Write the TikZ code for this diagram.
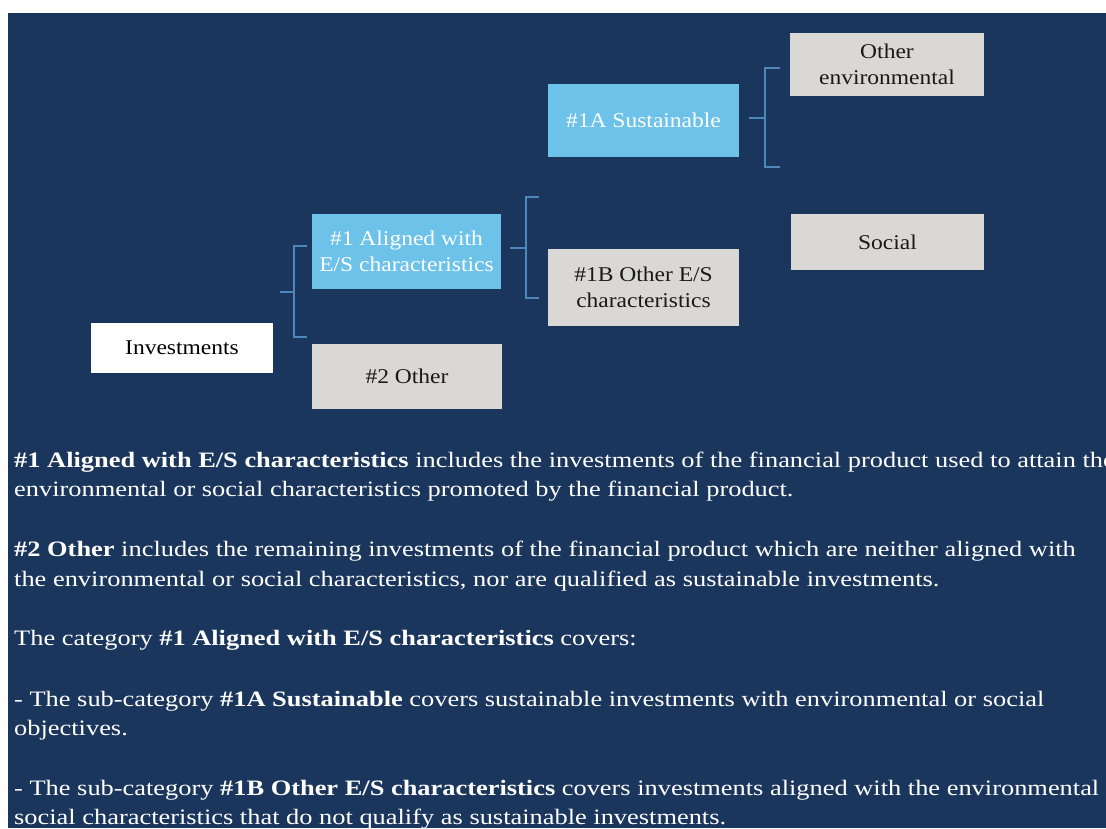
\documentclass[tikz,border=0pt]{standalone}
\usepackage{fontspec}
\setmainfont{Liberation Serif}[FakeStretch=1.2]
\newfontfamily\boxfont{Liberation Serif}[FakeStretch=1.12]
\usepackage{xcolor}
\usepackage{tikz}
\usetikzlibrary{positioning, calc}

\definecolor{navy}{RGB}{27,54,93}
\definecolor{skyfill}{RGB}{108,194,232}
\definecolor{greyfill}{RGB}{217,216,212}
\definecolor{bracketblue}{RGB}{78,136,186}

\begin{document}
\begin{tikzpicture}[
  x=1pt, y=-1pt,
  invest/.style={rectangle, fill=white, text=black, font=\boxfont\fontsize{21}{25}\selectfont, align=center, inner sep=0pt},
  aligned/.style={rectangle, fill=skyfill, text=white, font=\boxfont\fontsize{21}{26}\selectfont, align=center, inner sep=0pt},
  other/.style={rectangle, fill=greyfill, text=black!90, font=\boxfont\fontsize{21}{26}\selectfont, align=center, inner sep=0pt},
  bracket/.style={draw=bracketblue, line width=2pt},
  para/.style={anchor=base west, inner sep=0pt, text=white, font=\fontsize{22}{29.5}\selectfont},
]

  % page and panel
  \useasboundingbox (0,0) rectangle (1106,828);
  \fill[white] (0,0) rectangle (1106,828);
  \fill[navy] (8,13) rectangle (1106,828);

  % tree
  \node[invest, minimum width=182pt, minimum height=50pt] (inv) at (182,348) {Investments};
  \node[aligned, minimum width=189pt, minimum height=75pt] (al1) at (406.5,251.5) {\#1 Aligned with\\E/S characteristics};
  \node[other, minimum width=190pt, minimum height=65pt] (oth2) at (407,376.5) {\#2 Other};
  \node[aligned, minimum width=191pt, minimum height=73pt] (sus1a) at (643.5,120.5) {\#1A Sustainable};
  \node[other, minimum width=191pt, minimum height=77pt] (oth1b) at (643.5,287.5) {\#1B Other E/S\\characteristics};
  \node[other, minimum width=194pt, minimum height=63pt] (env) at (887,64.5) {Other\\environmental};
  \node[other, minimum width=193pt, minimum height=56pt] (soc) at (887.5,242) {Social};

  % brackets
  \coordinate (k1) at (294,292);
  \coordinate (k2) at (526,248);
  \coordinate (k3) at (765,118);
  \draw[bracket] ($(k1)+(-14,0)$) -- (k1);
  \draw[bracket] ($(k1)+(13,-46)$) -- ++(-13,0) -- ++(0,91) -- ++(13,0);
  \draw[bracket] ($(k2)+(-16,0)$) -- (k2);
  \draw[bracket] ($(k2)+(13,-51)$) -- ++(-13,0) -- ++(0,101) -- ++(13,0);
  \draw[bracket] ($(k3)+(-16,0)$) -- (k3);
  \draw[bracket] ($(k3)+(15,-50)$) -- ++(-15,0) -- ++(0,99) -- ++(15,0);

  % explanations
  \node[para] (l1) at (14,467) {\textbf{\#1 Aligned with E/S characteristics} includes the investments of the financial product used to attain the};
  \node[para] (l2) at (14,496) {environmental or social characteristics promoted by the financial product.};
  \node[para] (l3) at (14,556) {\textbf{\#2 Other} includes the remaining investments of the financial product which are neither aligned with};
  \node[para] (l4) at (14,586) {the environmental or social characteristics, nor are qualified as sustainable investments.};
  \node[para] (l5) at (14,645) {The category \textbf{\#1 Aligned with E/S characteristics} covers:};
  \node[para] (l6) at (14,706) {- The sub-category \textbf{\#1A Sustainable} covers sustainable investments with environmental or social};
  \node[para] (l7) at (14,735) {objectives.};
  \node[para] (l8) at (14,795) {- The sub-category \textbf{\#1B Other E/S characteristics} covers investments aligned with the environmental or};
  \node[para] (l9) at (14,824) {social characteristics that do not qualify as sustainable investments.};

\end{tikzpicture}
\end{document}
